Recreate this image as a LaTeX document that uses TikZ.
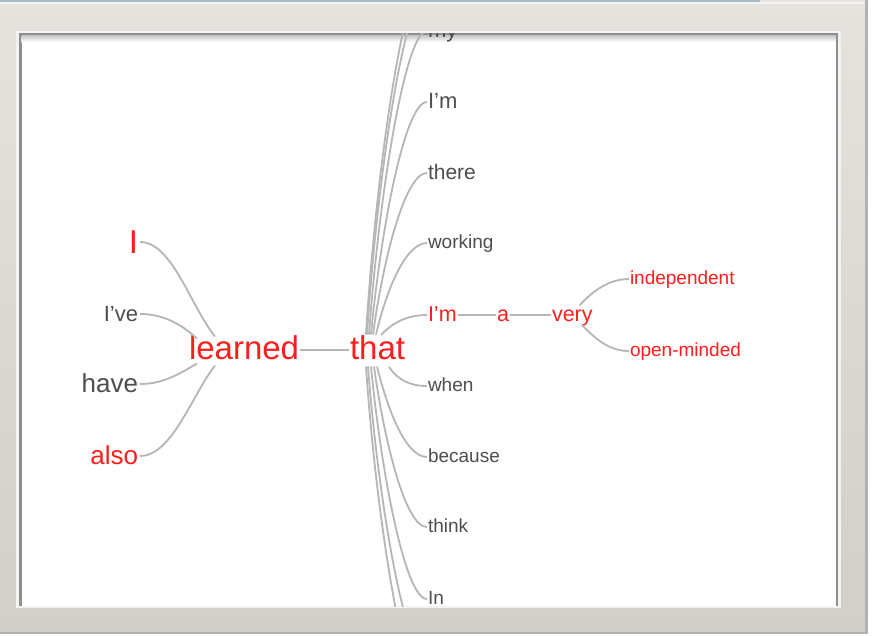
\documentclass[tikz,border=0pt]{standalone}
\usepackage{fontspec}
\setmainfont{Liberation Sans}
\usetikzlibrary{calc}
\definecolor{wred}{RGB}{255,30,30}
\definecolor{wgray}{RGB}{78,78,78}
\definecolor{lnk}{RGB}{182,182,182}
\definecolor{frameA}{RGB}{229,227,221}
\definecolor{frameB}{RGB}{210,207,200}
\definecolor{frameLine}{RGB}{143,143,143}
\definecolor{frameLight}{RGB}{244,243,239}
\definecolor{topBlue}{RGB}{165,185,200}
\begin{document}
\begin{tikzpicture}[x=1pt,y=-1pt,
  word/.style={inner xsep=1pt, inner ysep=0pt, outer sep=0pt},
  fs/.code={\pgfmathsetmacro\wdTH{0.8*#1}\pgfmathsetmacro\wdTD{0.2*#1}%
    \edef\wdTmp{\noexpand\tikzset{font=\noexpand\fontsize{#1}{#1}\noexpand\selectfont, text height=\wdTH pt, text depth=\wdTD pt}}\wdTmp},
  rw/.style={word, text=wred},
  gw/.style={word, text=wgray},
  link/.style={draw=lnk, line width=1.8pt}]
\useasboundingbox (0,0) rectangle (872,635);
% ---- outer frame ----
\fill[white] (0,0) rectangle (872,635);
\shade[top color=frameA, bottom color=frameB] (0,0) rectangle (867,633);
\fill[topBlue] (0,0) rectangle (760,1.5);
\fill[frameLight] (0,2) rectangle (867,3.5);
\fill[frameLine!70] (865,0) rectangle (867.5,633);
\fill[frameLine!70] (0,632) rectangle (867.5,634);
% ---- inner panel ----
\fill[frameLight] (16,31) rectangle (841,608);
\fill[frameLine] (19,33) rectangle (838,606);
\fill[white] (21.5,35.5) rectangle (835.5,606);
\shade[top color=black!22, bottom color=white] (21.5,35.5) rectangle (835.5,42);
% ---- content ----
\begin{scope}
\clip (21.5,33) rectangle (835.5,606);
% left words
\node[rw,fs=33,anchor=east] (wI) at (139,244) {I};
\node[gw,fs=22,anchor=east] (wIve) at (139,315) {I’ve};
\node[gw,fs=26,anchor=east] (whave) at (139,385) {have};
\node[rw,fs=26,anchor=east] (walso) at (139,457) {also};
% centre words
\node[rw,fs=33,anchor=west] (learned) at (188,350) {learned};
\node[rw,fs=33,anchor=west] (that) at (349,350) {that};
% right words
\node[gw,fs=22,anchor=west] (my) at (427,31) {my};
\node[gw,fs=22,anchor=west] (Im1) at (427,102) {I’m};
\node[gw,fs=21,anchor=west] (there) at (427,173) {there};
\node[gw,fs=19,anchor=west] (working) at (427,243) {working};
\node[rw,fs=21.5,anchor=west] (Imr) at (427,315) {I'm};
\node[rw,fs=21.5,anchor=west] (a) at (496,315) {a};
\node[rw,fs=21.5,anchor=west] (very) at (551,315) {very};
\node[rw,fs=19,anchor=west] (indep) at (629,279) {independent};
\node[rw,fs=19,anchor=west] (openm) at (629,351) {open-minded};
\node[gw,fs=19,anchor=west] (when) at (427,386) {when};
\node[gw,fs=19,anchor=west] (because) at (427,457) {because};
\node[gw,fs=19,anchor=west] (think) at (427,527) {think};
\node[gw,fs=19,anchor=west] (In) at (427,599) {In};
\coordinate (o1) at (428,-10);
\coordinate (o2) at (428,-30);
\coordinate (o3) at (428,660);
\coordinate (o4) at (428,700);
% left connectors
\draw[link] ($(wI.east)+(1,-2)$) .. controls (172,242) and (190,305) .. ($(learned.north west)+(27,3)$);
\draw[link] ($(wIve.east)+(1,-1)$) .. controls (162,314) and (180,323) .. ($(learned.north west)+(9,5)$);
\draw[link] ($(whave.east)+(1,-1)$) .. controls (165,384) and (182,372) .. ($(learned.south west)+(9,-3)$);
\draw[link] ($(walso.east)+(1,-1)$) .. controls (172,456) and (192,395) .. ($(learned.south west)+(27,-1)$);
\draw[link] (learned.east) -- (that.west);
% upper fan
\draw[link] ($(that.north west)+(17,1)$) .. controls (376,170) and (405,-30) .. (o2);
\draw[link] ($(that.north west)+(18,1)$) .. controls (377,179) and (405,-10) .. (o1);
\draw[link] ($(that.north west)+(20,1)$) .. controls (379,196) and (405,31) .. (my.west);
\draw[link] ($(that.north west)+(22,1)$) .. controls (381,228) and (405,102) .. (Im1.west);
\draw[link] ($(that.north west)+(24,1)$) .. controls (383,260) and (405,173) .. (there.west);
\draw[link] ($(that.north west)+(27,1)$) .. controls (386,292) and (405,243) .. (working.west);
\draw[link] ($(that.north west)+(32,1.5)$) .. controls (393,322) and (408,315) .. (Imr.west);
% lower fan
\draw[link] ($(that.south west)+(40,0.5)$) .. controls (398,380) and (410,386) .. (when.west);
\draw[link] ($(that.south west)+(28,0)$) .. controls (387,407) and (405,457) .. (because.west);
\draw[link] ($(that.south west)+(25,0)$) .. controls (384,439) and (405,527) .. (think.west);
\draw[link] ($(that.south west)+(22,0)$) .. controls (381,471) and (405,599) .. (In.west);
\draw[link] ($(that.south west)+(19,0)$) .. controls (378,498) and (405,660) .. (o3);
\draw[link] ($(that.south west)+(17,0)$) .. controls (376,516) and (405,700) .. (o4);
% chain
\draw[link] (Imr.east) -- (a.west);
\draw[link] (a.east) -- (very.west);
\draw[link] ($(very.north east)+(-14,1)$) .. controls (592,292) and (608,279) .. (indep.west);
\draw[link] ($(very.south east)+(-12,-1)$) .. controls (595,338) and (608,351) .. (openm.west);
\end{scope}
\end{tikzpicture}
\end{document}
